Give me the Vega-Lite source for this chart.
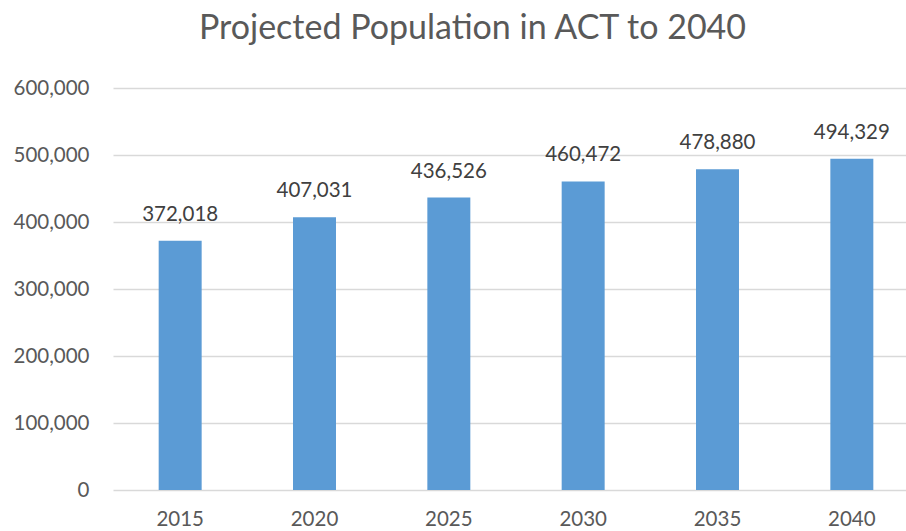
{
  "$schema": "https://vega.github.io/schema/vega-lite/v6.json",
  "autosize": "none",
  "width": 793,
  "height": 402,
  "padding": {"left": 113, "top": 88, "right": 0, "bottom": 41},
  "background": "white",
  "title": {
    "text": "Projected Population in ACT to 2040",
    "font": "Lato",
    "fontSize": 34,
    "fontWeight": "normal",
    "color": "#595959",
    "anchor": "middle",
    "frame": "group",
    "dx": -37,
    "offset": 32
  },
  "data": {
    "values": [
      {"year": "2015", "population": 372018},
      {"year": "2020", "population": 407031},
      {"year": "2025", "population": 436526},
      {"year": "2030", "population": 460472},
      {"year": "2035", "population": 478880},
      {"year": "2040", "population": 494329}
    ]
  },
  "config": {"view": {"stroke": null}},
  "encoding": {
    "x": {
      "field": "year",
      "type": "ordinal",
      "scale": {"range": [0, 806], "paddingInner": 0.68, "paddingOuter": 0.34},
      "axis": {
        "title": null,
        "labelAngle": 0,
        "domain": false,
        "ticks": false,
        "labelFont": "Lato",
        "labelFontSize": 20.5,
        "labelColor": "#595959",
        "labelPadding": 19
      }
    },
    "y": {
      "field": "population",
      "type": "quantitative",
      "scale": {"domain": [0, 600000]},
      "axis": {
        "title": null,
        "values": [0, 100000, 200000, 300000, 400000, 500000, 600000],
        "format": ",d",
        "domain": false,
        "ticks": false,
        "gridColor": "#D9D9D9",
        "gridWidth": 1.3,
        "labelFont": "Lato",
        "labelFontSize": 20.5,
        "labelColor": "#595959",
        "labelPadding": 24
      }
    }
  },
  "layer": [
    {"mark": {"type": "bar", "color": "#5B9BD5"}},
    {
      "mark": {"type": "text", "dy": -20, "baseline": "alphabetic", "font": "Lato", "fontSize": 20.5, "color": "#404040"},
      "encoding": {"text": {"field": "population", "type": "quantitative", "format": ",d"}}
    }
  ]
}
